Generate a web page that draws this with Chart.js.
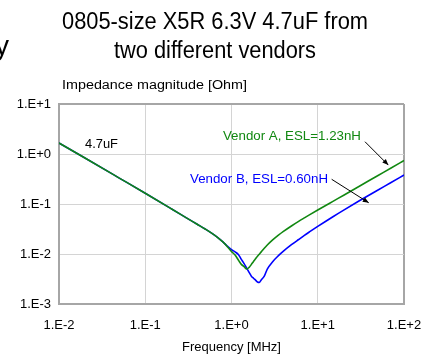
<!DOCTYPE html>
<html><head><meta charset="utf-8">
<script src="https://cdn.jsdelivr.net/npm/chart.js@4.4.1/dist/chart.umd.min.js"></script>
<style>html,body{margin:0;padding:0;background:#fff;}#wrap{width:424px;height:358px;position:relative;}</style>
</head><body><div id="wrap"><canvas id="c" width="424" height="358"></canvas></div>
<script>
// ---- data ----
const freqMHz = [0.01,0.02,0.05,0.1,0.2,0.3,0.4,0.5,0.6,0.7,0.8,0.9,1.0,1.1,1.2,1.3,1.4,1.5,1.6,1.7,1.8,1.9,2.0,2.1,2.2,2.4,2.6,3.0,3.5,4,5,6,7,8,10,15,20,30,50,70,100];
const vendorA = [1.66,0.83,0.33,0.164,0.0805,0.0529,0.0393,0.0312,0.0255,0.0210,0.0173,0.0139,0.0112,0.0095,0.0076,0.0062,0.0056,0.0050,0.0054,0.0062,0.0071,0.0080,0.0090,0.0099,0.0109,0.0130,0.0151,0.0191,0.0238,0.0283,0.0368,0.0450,0.0528,0.0605,0.0757,0.113,0.150,0.224,0.372,0.519,0.740];
const vendorB = [1.66,0.83,0.33,0.164,0.0805,0.0529,0.0393,0.0312,0.0255,0.0210,0.0173,0.0143,0.0122,0.0110,0.0098,0.0078,0.0064,0.0052,0.0043,0.0036,0.00327,0.0030,0.00275,0.00269,0.0030,0.0036,0.0050,0.0070,0.00925,0.0114,0.0155,0.0195,0.0236,0.0276,0.0356,0.0557,0.0755,0.1146,0.191,0.266,0.380];
const xTickValues = [0.01,0.1,1,10,100];
const xTickLabels = ['1.E-2','1.E-1','1.E+0','1.E+1','1.E+2'];
const yTickValues = [0.001,0.01,0.1,1,10];
const yTickLabels = ['1.E-3','1.E-2','1.E-1','1.E+0','1.E+1'];
const titleLines = ['0805-size X5R 6.3V 4.7uF from','two different vendors'];
const yAxisTitle = 'Impedance magnitude [Ohm]';
const xAxisTitle = 'Frequency [MHz]';
const seriesNames = ['Vendor A, ESL=1.23nH','Vendor B, ESL=0.60nH'];
const capLabel = '4.7uF';

// annotation anchors in data coordinates (MHz, Ohm)
const notes = [
  {text: seriesNames[0], f: 31.7, z: 1.905, align: 'right', color: '#118811', w: 138,
   arrowFrom: [35.3, 1.76], arrowTo: [65.8, 0.60]},
  {text: seriesNames[1], f: 13.15, z: 0.259, align: 'right', color: '#0000ff', w: 138,
   arrowFrom: [14.5, 0.312], arrowTo: [39, 0.106]},
  {text: capLabel, f: 0.02, z: 1.30, align: 'left', color: '#000', w: 33}
];

const SANS = "'Liberation Sans', Arial, sans-serif";
const NARROW = "'Liberation Sans Narrow', 'Arial Narrow', 'Liberation Sans', Arial, sans-serif";

function labelFor(values, labels, v) {
  const i = values.findIndex(t => Math.abs(Math.log10(t) - Math.log10(v)) < 1e-6);
  return i >= 0 ? labels[i] : '';
}
function fitText(ctx, text, x, y, font, targetW, align, color) {
  ctx.save();
  ctx.font = font; ctx.fillStyle = color; ctx.textBaseline = 'alphabetic'; ctx.textAlign = align;
  const w = ctx.measureText(text).width;
  ctx.translate(x, y); ctx.scale(targetW / w, 1);
  ctx.fillText(text, 0, 0);
  ctx.restore();
}

const decor = {
  id: 'decor',
  afterDraw(chart) {
    const ctx = chart.ctx, xs = chart.scales.x, ys = chart.scales.y;
    fitText(ctx, titleLines[0], 215, 28.5, '23px ' + NARROW, 306, 'center', '#000');
    fitText(ctx, titleLines[1], 215, 57.5, '23px ' + NARROW, 202, 'center', '#000');
    ctx.save(); ctx.font = '28px ' + NARROW; ctx.fillStyle = '#000'; ctx.textAlign = 'right';
    ctx.fillText('y', 9, 55); ctx.restore();
    fitText(ctx, yAxisTitle, 62, 89, '12px ' + SANS, 185, 'left', '#000');
    notes.forEach(n => {
      fitText(ctx, n.text, xs.getPixelForValue(n.f), ys.getPixelForValue(n.z), '13px ' + SANS, n.w, n.align, n.color);
      if (n.arrowFrom) {
        const x1 = xs.getPixelForValue(n.arrowFrom[0]), y1 = ys.getPixelForValue(n.arrowFrom[1]);
        const x2 = xs.getPixelForValue(n.arrowTo[0]), y2 = ys.getPixelForValue(n.arrowTo[1]);
        ctx.save();
        ctx.strokeStyle = '#000'; ctx.fillStyle = '#000'; ctx.lineWidth = 1;
        ctx.beginPath(); ctx.moveTo(x1, y1); ctx.lineTo(x2, y2); ctx.stroke();
        const a = Math.atan2(y2 - y1, x2 - x1), L = 6, W = 2.5;
        ctx.beginPath();
        ctx.moveTo(x2, y2);
        ctx.lineTo(x2 - L * Math.cos(a) + W * Math.sin(a), y2 - L * Math.sin(a) - W * Math.cos(a));
        ctx.lineTo(x2 - L * Math.cos(a) - W * Math.sin(a), y2 - L * Math.sin(a) + W * Math.cos(a));
        ctx.closePath(); ctx.fill();
        ctx.restore();
      }
    });
  }
};

const GRID = '#d4d4d4', EDGE = '#a6a6a6';
new Chart(document.getElementById('c'), {
  type: 'scatter',
  data: {
    datasets: [
      {label: seriesNames[0], data: freqMHz.map((f, i) => ({x: f, y: vendorA[i]})),
       showLine: true, borderColor: '#118811', borderWidth: 1.6, pointRadius: 0, cubicInterpolationMode: 'monotone'},
      {label: seriesNames[1], data: freqMHz.map((f, i) => ({x: f, y: vendorB[i]})),
       showLine: true, borderColor: '#0000ff', borderWidth: 1.6, pointRadius: 0, cubicInterpolationMode: 'monotone'}
    ]
  },
  options: {
    responsive: false, animation: false, devicePixelRatio: 1,
    layout: {padding: {top: 104, right: 20, bottom: 0, left: 0}},
    plugins: {legend: {display: false}, tooltip: {enabled: false}, title: {display: false}},
    scales: {
      x: {
        type: 'logarithmic', min: 0.01, max: 100,
        afterBuildTicks: s => { s.ticks = xTickValues.map(v => ({value: v})); },
        afterFit: s => { s.height = 54; s.paddingLeft = 0; s.paddingRight = 0; },
        ticks: {callback: v => labelFor(xTickValues, xTickLabels, v), autoSkip: false, maxRotation: 0,
                font: {family: SANS, size: 13}, color: '#000', padding: 14},
        grid: {drawTicks: false, color: c => (c.tick && c.tick.value === 100) ? EDGE : GRID,
               lineWidth: c => (c.tick && c.tick.value === 100) ? 2 : 1},
        border: {color: EDGE, width: 2},
        title: {display: true, text: xAxisTitle, font: {family: SANS, size: 13}, color: '#000',
                padding: {top: 0, bottom: 3}}
      },
      y: {
        type: 'logarithmic', min: 0.001, max: 10,
        afterBuildTicks: s => { s.ticks = yTickValues.map(v => ({value: v})); },
        afterFit: s => { s.width = 59; s.paddingTop = 0; s.paddingBottom = 0; },
        ticks: {callback: v => labelFor(yTickValues, yTickLabels, v), autoSkip: false,
                font: {family: SANS, size: 13}, color: '#000', padding: 8},
        grid: {drawTicks: false, color: c => (c.tick && c.tick.value === 10) ? EDGE : GRID,
               lineWidth: c => (c.tick && c.tick.value === 10) ? 2 : 1},
        border: {color: EDGE, width: 2}
      }
    }
  },
  plugins: [decor]
});
</script></body></html>
